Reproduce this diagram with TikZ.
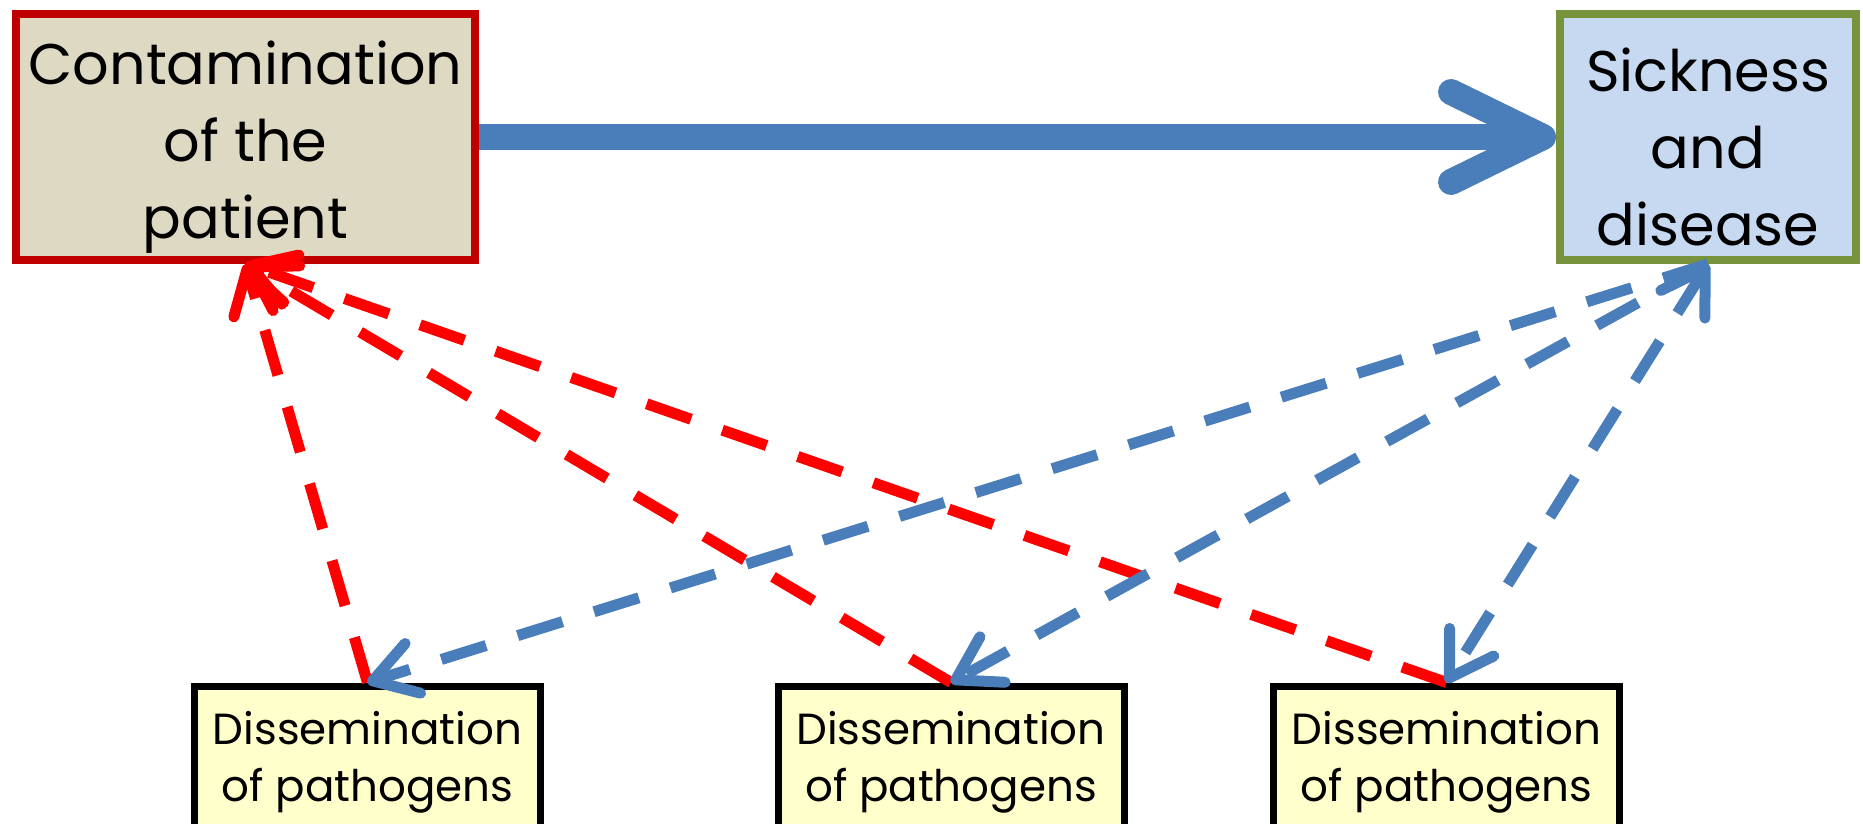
\documentclass[tikz,border=0pt]{standalone}
\usepackage{fontspec}
\setmainfont{Poppins}
\usetikzlibrary{arrows.meta,positioning}
\definecolor{patientRed}{RGB}{192,0,0}
\definecolor{patientFill}{RGB}{221,217,195}
\definecolor{sickGreen}{RGB}{119,147,60}
\definecolor{sickFill}{RGB}{198,217,241}
\definecolor{dissFill}{RGB}{255,255,204}
\definecolor{linkBlue}{RGB}{74,126,187}
\definecolor{linkRed}{RGB}{255,0,0}
\newcommand{\padTop}[1]{\rule{0pt}{#1}}
\tikzset{
  topBox/.style={rectangle,draw=#1,line width=0.08cm,minimum height=2.46cm,
                 align=center,inner sep=0pt,font=\fontsize{16.3}{21.9}\selectfont},
  dissBox/.style={rectangle,draw=black,fill=dissFill,line width=0.07cm,
                  minimum width=3.46cm,minimum height=1.44cm,align=center,
                  font=\fontsize{12.4}{16.2}\selectfont},
  bigArrow/.style={-{Straight Barb[round,length=0.92cm,width=0.9cm]},
                   line width=0.26cm,linkBlue},
  dashArrow/.style={line width=0.11cm,#1,dash pattern=on 0.47cm off 0.33cm},
}

\begin{document}
\begin{tikzpicture}[
  >={Straight Barb[round,length=0.42cm,width=0.52cm]}
]
  \useasboundingbox (0,0) rectangle (18.63,-8.23);
  \node[topBox=patientRed,fill=patientFill,minimum width=4.59cm](patient) at (2.455,-1.37)
      {\padTop{0.64cm}Contamination\\of the\\patient};
  \node[topBox=sickGreen,fill=sickFill,minimum width=2.96cm](sick) at (17.08,-1.37)
      {\padTop{0.64cm}Sickness\\and\\disease};
  \foreach \n/\x in {dissA/3.675, dissB/9.51, dissC/14.465}{
    \node[dissBox](\n) at (\x,-7.58){\padTop{0.42cm}Dissemination\\of pathogens};
  }
  \draw[bigArrow](patient.east)--(sick.west);
  % red links back to the patient
  \foreach \n in {dissA,dissB,dissC}{
    \draw[dashArrow=linkRed,->](\n.north)--(patient.south);
  }
  % blue links out of sickness
  \draw[dashArrow=linkBlue,->](sick.south)--(dissA.north);
  \draw[dashArrow=linkBlue,->](sick.south)--(dissB.north);
  \draw[dashArrow=linkBlue,<->](sick.south)--(dissC.north);
\end{tikzpicture}
\end{document}
